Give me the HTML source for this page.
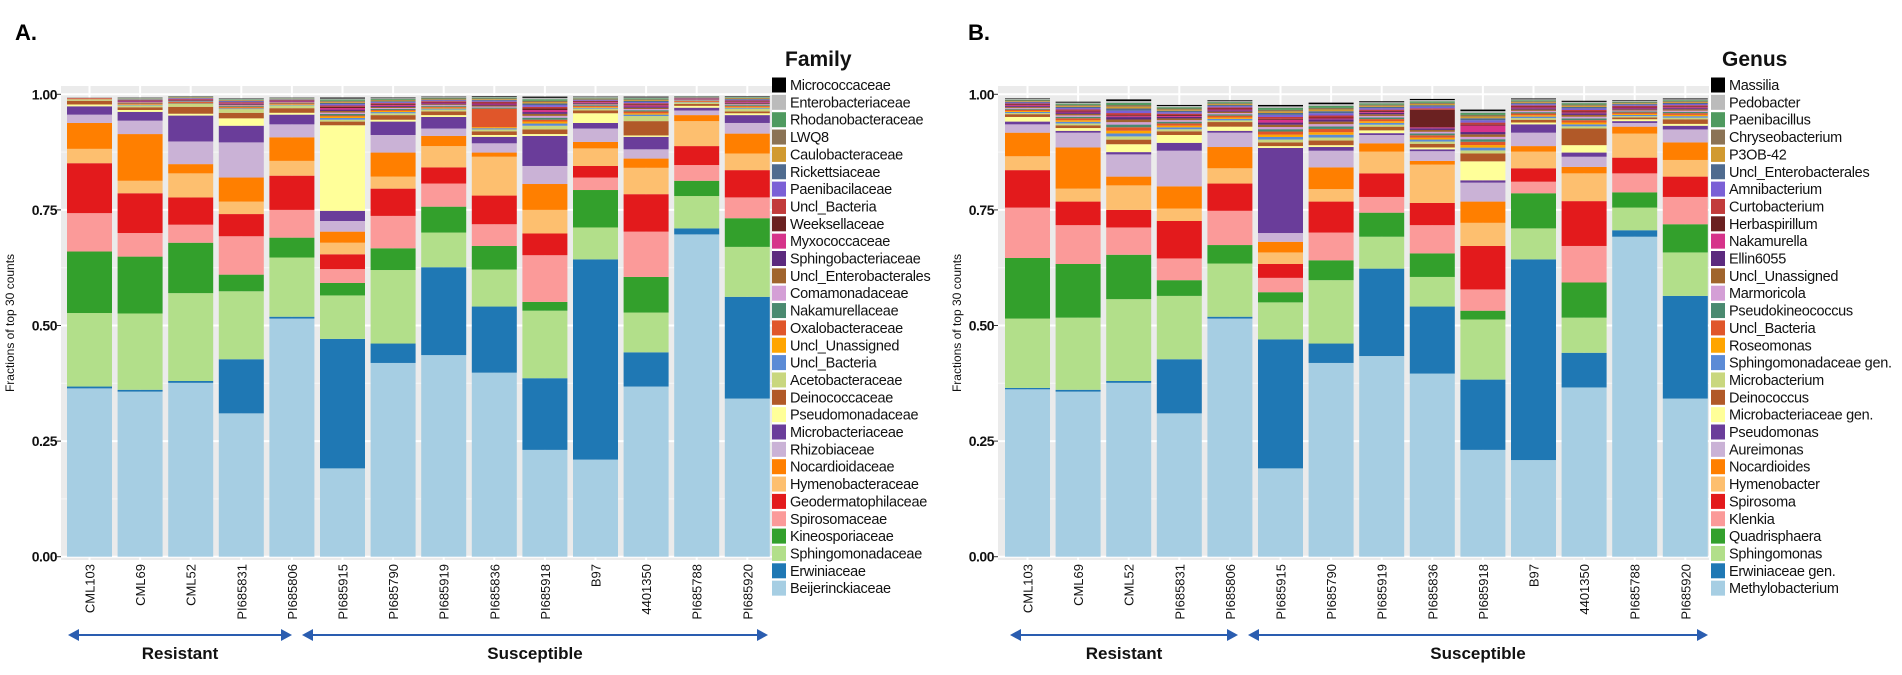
<!DOCTYPE html>
<html><head><meta charset="utf-8">
<style>
html,body{margin:0;padding:0;background:#fff;}
svg{display:block;font-family:"Liberation Sans",sans-serif;}
</style></head>
<body>
<svg id="chart" width="1902" height="675" viewBox="0 0 1902 675" xmlns="http://www.w3.org/2000/svg">
<text x="15" y="40" font-size="22" font-weight="bold">A.</text>
<text x="968" y="40" font-size="22" font-weight="bold">B.</text>
</svg>
<script>
const samples = ["CML103","CML69","CML52","PI685831","PI685806","PI685915","PI685790","PI685919","PI685836","PI685918","B97","4401350","PI685788","PI685920"];
const palette = ["#a6cee3","#1f78b4","#b2df8a","#33a02c","#fb9a99","#e31a1c","#fdbf6f","#ff7f00","#cab2d6","#6a3d9a","#ffff99","#b15928","#c9d77e","#5b8bd6","#ffa500","#e0562a","#4a8a70","#d49fd6","#a0642d","#5c2a7e","#d6338a","#6b2121","#c23b3b","#7b60d6","#4f6b8f","#d19a30","#8b7355","#4f9a5f","#bbbbbb","#000000"];
const familyNames = ["Beijerinckiaceae","Erwiniaceae","Sphingomonadaceae","Kineosporiaceae","Spirosomaceae","Geodermatophilaceae","Hymenobacteraceae","Nocardioidaceae","Rhizobiaceae","Microbacteriaceae","Pseudomonadaceae","Deinococcaceae","Acetobacteraceae","Uncl_Bacteria","Uncl_Unassigned","Oxalobacteraceae","Nakamurellaceae","Comamonadaceae","Uncl_Enterobacterales","Sphingobacteriaceae","Myxococcaceae","Weeksellaceae","Uncl_Bacteria","Paenibacilaceae","Rickettsiaceae","Caulobacteraceae","LWQ8","Rhodanobacteraceae","Enterobacteriaceae","Micrococcaceae"];
const genusNames = ["Methylobacterium","Erwiniaceae gen.","Sphingomonas","Quadrisphaera","Klenkia","Spirosoma","Hymenobacter","Nocardioides","Aureimonas","Pseudomonas","Microbacteriaceae gen.","Deinococcus","Microbacterium","Sphingomonadaceae gen.","Roseomonas","Uncl_Bacteria","Pseudokineococcus","Marmoricola","Uncl_Unassigned","Ellin6055","Nakamurella","Herbaspirillum","Curtobacterium","Amnibacterium","Uncl_Enterobacterales","P3OB-42","Chryseobacterium","Paenibacillus","Pedobacter","Massilia"];
const yTicks = [0,0.25,0.5,0.75,1];
const yTickLabels = ["0.00","0.25","0.50","0.75","1.00"];

// Panel A (family) main segment values per category, per sample
const famBeij = [.364,.357,.376,.310,.515,.191,.419,.436,.398,.231,.210,.368,.697,.342];
const famErw  = [.004,.004,.004,.117,.004,.280,.042,.190,.143,.155,.433,.074,.013,.220];
const famSph  = [.159,.165,.190,.147,.128,.094,.159,.075,.080,.146,.069,.086,.070,.108];
const famKin  = [.133,.123,.109,.036,.043,.027,.047,.056,.051,.019,.081,.077,.033,.062];
const famSpi  = [.083,.051,.039,.083,.060,.030,.070,.050,.047,.101,.027,.098,.034,.045];
const famGeo  = [.108,.086,.059,.048,.074,.032,.059,.035,.062,.047,.025,.081,.041,.059];
const famHym  = [.031,.027,.052,.027,.032,.025,.026,.046,.084,.051,.038,.057,.054,.036];
const famNoc  = [.056,.101,.020,.052,.051,.024,.052,.022,.009,.056,.014,.020,.013,.043];
const famRhi  = [.018,.029,.049,.076,.028,.023,.038,.016,.020,.039,.029,.020,.010,.023];
const famMic  = [.018,.019,.056,.036,.021,.022,.029,.025,.014,.065,.012,.027,.006,.017];
const famPse  = [.004,.004,.004,.016,.004,.185,.004,.004,.004,.004,.021,.003,.004,.004];
const famDei  = [.008,.006,.015,.012,.010,.008,.010,.008,.008,.010,.006,.031,.004,.004];
const famAce  = [.003,.004,.006,.008,.006,.004,.004,.004,.004,.008,.004,.011,.003,.006];
const famOxa  = [.002,.002,.002,.002,.002,.002,.002,.002,.040,.004,.002,.004,.002,.002];
const famTop  = [.993,.993,.996,.991,.993,.993,.993,.995,.996,.995,.995,.995,.996,.996];

// Panel B (genus)
const genMet  = [.362,.357,.376,.310,.515,.191,.419,.434,.396,.231,.209,.366,.692,.342];
const genErw  = [.003,.004,.004,.117,.004,.279,.042,.189,.145,.152,.434,.075,.014,.222];
const genSph  = [.150,.156,.177,.137,.115,.080,.137,.069,.064,.130,.067,.076,.049,.094];
const genQua  = [.131,.116,.096,.034,.040,.022,.043,.052,.051,.019,.076,.076,.033,.061];
const genKle  = [.109,.084,.059,.047,.074,.031,.060,.034,.061,.046,.025,.079,.041,.059];
const genSpi  = [.081,.051,.038,.081,.059,.030,.067,.051,.048,.094,.029,.097,.034,.044];
const genHym  = [.030,.028,.053,.027,.033,.025,.027,.047,.083,.050,.036,.060,.052,.036];
const genNoc  = [.051,.089,.019,.048,.046,.023,.047,.018,.008,.046,.012,.014,.015,.038];
const genAur  = [.018,.032,.048,.077,.031,.019,.036,.018,.021,.041,.029,.022,.008,.028];
const genPse  = [.006,.004,.005,.017,.004,.184,.008,.004,.004,.005,.018,.009,.004,.008];
const genMbg  = [.010,.006,.017,.017,.009,.004,.004,.006,.004,.041,.004,.016,.004,.004];
const genDei  = [.006,.006,.010,.008,.010,.008,.010,.008,.008,.017,.006,.036,.004,.010];
const genHer  = [.002,.002,.002,.002,.002,.002,.002,.002,.038,.002,.002,.002,.002,.002];
const genNak  = [.002,.002,.002,.002,.002,.006,.002,.002,.002,.014,.002,.002,.002,.002];
const genTop  = [.991,.984,.989,.977,.987,.977,.982,.985,.990,.967,.991,.986,.987,.991];
const minorShare = [1.2,1.1,1,1.3,1,0.9,1,0.9,1,0.8,0.8,0.9,0.8,0.7,0.6,0.8,0.7,0.6];

const NS="http://www.w3.org/2000/svg";
const svg=document.getElementById('chart');
function mk(tag,attrs,parent){const e=document.createElementNS(NS,tag);for(const k in attrs)e.setAttribute(k,attrs[k]);(parent||svg).appendChild(e);return e;}

function buildMatrix(main, fixedIdx, fixedArrs, top){
  // returns per-sample array of 30 values
  const out=[];
  for(let s=0;s<14;s++){
    const v=new Array(30).fill(0);
    main.forEach((arr,i)=>v[i]=arr[s]);
    fixedIdx.forEach((ci,k)=>v[ci]=fixedArrs[k][s]);
    let used=v.reduce((a,b)=>a+b,0);
    let rest=Math.max(0,top[s]-used);
    const freeIdx=[];for(let i=12;i<30;i++) if(!fixedIdx.includes(i)) freeIdx.push(i);
    const tw=freeIdx.reduce((a,i)=>a+minorShare[i-12],0);
    freeIdx.forEach(i=>v[i]=rest*minorShare[i-12]/tw);
    out.push(v);
  }
  return out;
}

function drawPanel(o){
  const g=mk('g',{});
  
  
  const y=v=>o.y0-(o.y0-o.y1)*v;
  const bx=i=>o.bar0+o.step*i;
  const bg=mk('rect',{x:o.left,y:o.top,width:o.right-o.left,height:o.bottom-o.top,fill:'#ebebeb'},g);
  
  
  [0.125,0.375,0.625,0.875].forEach(t=>mk('line',{x1:o.left,x2:o.right,y1:y(t),y2:y(t),stroke:'#f7f7f7','stroke-width':1},g));
  yTicks.forEach((t,k)=>{
    mk('line',{x1:o.left,x2:o.right,y1:y(t),y2:y(t),stroke:'#fff','stroke-width':2},g);
    mk('line',{x1:o.left-4,x2:o.left,y1:y(t),y2:y(t),stroke:'#333','stroke-width':1},g);
    const tl=mk('text',{x:o.left-4,y:y(t)+5,'font-size':14,'text-anchor':'end',fill:'#111','font-weight':'bold','letter-spacing':'-0.5'},g);
    tl.textContent=yTickLabels[k];
    
    
  });
  samples.forEach((s,i)=>mk('line',{x1:bx(i)+o.bw/2,x2:bx(i)+o.bw/2,y1:o.top,y2:o.bottom,stroke:'#fff','stroke-width':2},g));
  o.matrix.forEach((vals,i)=>{
    let acc=0;
    vals.forEach((v,c)=>{
      if(v<=0)return;
      const r=mk('rect',{x:bx(i),y:y(acc+v),width:o.bw,height:Math.max(0,y(acc)-y(acc+v)),fill:palette[c]},g);
      
      
      acc+=v;
    });
    const lx=bx(i)+o.bw/2+5;
    const lt=mk('text',{x:lx,y:o.bottom+4,'font-size':13,'text-anchor':'end',fill:'#111',transform:`rotate(-90 ${lx} ${o.bottom+4})`},g);
    lt.textContent=samples[i];
    
    
  });
  const ya=mk('text',{x:o.ytx,y:(o.top+o.bottom)/2,'font-size':12,'text-anchor':'middle',fill:'#111',transform:`rotate(-90 ${o.ytx} ${(o.top+o.bottom)/2})`},g);
  ya.textContent='Fractions of top 30 counts';
  
  
  // group arrows
  const ay=635;
  [[o.res0,o.res1,'Resistant','resistant'],[o.sus0,o.sus1,'Susceptible','susceptible']].forEach(a=>{
    const ar=mk('g',{},g);
    
    
    mk('line',{x1:a[0]+8,x2:a[1]-8,y1:ay,y2:ay,stroke:'#2a5db0','stroke-width':2},ar);
    mk('polygon',{points:`${a[0]},${ay} ${a[0]+11},${ay-6} ${a[0]+11},${ay+6}`,fill:'#2a5db0'},ar);
    mk('polygon',{points:`${a[1]},${ay} ${a[1]-11},${ay-6} ${a[1]-11},${ay+6}`,fill:'#2a5db0'},ar);
    const t=mk('text',{x:(a[0]+a[1])/2,y:ay+24,'font-size':17,'font-weight':'bold','text-anchor':'middle',fill:'#111'},g);
    t.textContent=a[2];
    
    
  });
  // legend
  const lt=mk('text',{x:o.titleX,y:66,'font-size':21,'font-weight':'bold',fill:'#111'},g);
  lt.textContent=o.title;
  
  
  for(let k=0;k<30;k++){
    const c=29-k;
    const cy=85+17.35*k;
    const le=mk('g',{},g);
    
    
    mk('rect',{x:o.legX,y:cy-7.5,width:14,height:15,fill:palette[c]},le);
    const tx=mk('text',{x:o.legX+18,y:cy+5,'font-size':14.5,fill:'#111','letter-spacing':'-0.3'},le);
    tx.textContent=o.names[c];
  }
}

const famMatrix=buildMatrix([famBeij,famErw,famSph,famKin,famSpi,famGeo,famHym,famNoc,famRhi,famMic,famPse,famDei],[12,15],[famAce,famOxa],famTop);
const genMatrix=buildMatrix([genMet,genErw,genSph,genQua,genKle,genSpi,genHym,genNoc,genAur,genPse,genMbg,genDei],[21,20],[genHer,genNak],genTop);

drawPanel({id:'family',matrix:famMatrix,names:familyNames,title:'Family',left:61,right:772,top:86,bottom:560,y0:556.7,y1:94.3,bar0:67,step:50.6,bw:45,ytx:14,res0:68,res1:292,sus0:302,sus1:768,titleX:785,legX:772});
drawPanel({id:'genus',matrix:genMatrix,names:genusNames,title:'Genus',left:998,right:1709,top:86,bottom:560,y0:556.7,y1:94.3,bar0:1005,step:50.6,bw:45,ytx:961,res0:1010,res1:1238,sus0:1248,sus1:1708,titleX:1722,legX:1711});
</script>
</body></html>
